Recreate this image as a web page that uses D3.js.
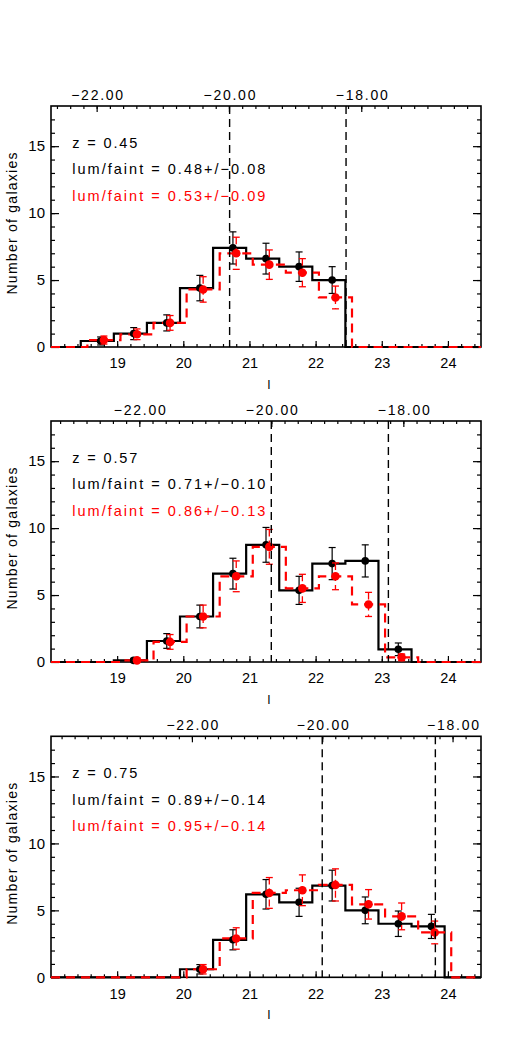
<!DOCTYPE html>
<html><head><meta charset="utf-8">
<script src="https://cdn.jsdelivr.net/npm/d3@7"></script>
<style>
body{margin:0;background:#fff}
svg{display:block}
text{font-family:"Liberation Sans",Arial,Helvetica,sans-serif}
</style>
</head><body>
<svg id="c" width="511" height="1063"></svg>
<script>
// ---------- data ----------
const redshiftLabels = ["z = 0.45", "z = 0.57", "z = 0.75"];
const blackRatioLabels = ["lum/faint = 0.48+/\u22120.08", "lum/faint = 0.71+/\u22120.10", "lum/faint = 0.89+/\u22120.14"];
const redRatioLabels = ["lum/faint = 0.53+/\u22120.09", "lum/faint = 0.86+/\u22120.13", "lum/faint = 0.95+/\u22120.14"];

// lower edge of first (black) bin in each panel, I magnitude
const firstBinEdge = [18.45, 18.95, 19.95];
const binWidth = 0.5;
const redBinShift = 0.1;

const p1Black = [0.45, 1.0, 1.8, 4.4, 7.4, 6.6, 6.0, 5.0];
const p1BlackErr = [0.3, 0.45, 0.6, 0.95, 1.2, 1.15, 1.1, 1.0];
const p1Red = [0.52, 0.95, 1.8, 4.3, 7.0, 6.15, 5.55, 3.7];
const p1RedErr = [0.3, 0.4, 0.55, 0.95, 1.2, 1.1, 1.05, 0.85];

const p2Black = [0.12, 1.57, 3.4, 6.6, 8.75, 5.35, 7.35, 7.55, 0.95];
const p2BlackErr = [0.15, 0.55, 0.85, 1.15, 1.3, 1.05, 1.2, 1.2, 0.47];
const p2Red = [0.12, 1.5, 3.4, 6.4, 8.6, 5.5, 6.4, 4.3, 0.35];
const p2RedErr = [0.15, 0.55, 0.85, 1.15, 1.3, 1.05, 1.0, 0.9, 0.25];

const p3Black = [0.6, 2.8, 6.2, 5.6, 6.85, 5.0, 4.0, 3.8];
const p3BlackErr = [0.35, 0.75, 1.1, 1.05, 1.15, 1.0, 0.95, 0.9];
const p3Red = [0.6, 2.9, 6.3, 6.5, 6.9, 5.45, 4.55, 3.35];
const p3RedErr = [0.35, 0.8, 1.15, 1.15, 1.2, 1.1, 1.0, 0.85];

// point positions relative to each bin's lower edge
const blackPointOffset = 0.30;
const redPointOffset = 0.35;

// dashed limits (I magnitude)
const p1Limits = [20.70, 22.46];
const p2Limits = [21.33, 23.10];
const p3Limits = [22.10, 23.81];

// top axis: absolute magnitude tick values and their I positions (per panel)
const absMagTicks = [-22, -20, -18];
const p1AbsMagAtI = [18.69, 20.70, 22.69];
const p2AbsMagAtI = [19.335, 21.326, 23.326];
const p3AbsMagAtI = [20.13, 22.10, 24.07];

const xDomain = [18, 24.5];
const yDomain = [0, 18];
const xTicks = [19, 20, 21, 22, 23, 24];
const yTicks = [0, 5, 10, 15];

const panels = [
  {black: p1Black, bErr: p1BlackErr, red: p1Red, rErr: p1RedErr, lim: p1Limits, top: p1AbsMagAtI},
  {black: p2Black, bErr: p2BlackErr, red: p2Red, rErr: p2RedErr, lim: p2Limits, top: p2AbsMagAtI},
  {black: p3Black, bErr: p3BlackErr, red: p3Red, rErr: p3RedErr, lim: p3Limits, top: p3AbsMagAtI}
];

// ---------- layout ----------
const L = 51, R = 481;
const bottoms = [347, 662, 977.3];
const plotH = 241;
const svg = d3.select("#c");
const x = d3.scaleLinear().domain(xDomain).range([L, R]);
const RED = "#ff0000";

panels.forEach((p, pi) => {
  const B = bottoms[pi], T = B - plotH;
  const y = d3.scaleLinear().domain(yDomain).range([B, T]);
  const g = svg.append("g");

  // axes
  const bot = g.append("g").attr("class", "xax").attr("transform", `translate(0,${B})`)
    .call(d3.axisBottom(x).tickValues(xTicks).tickSize(-6).tickPadding(11).tickFormat(d3.format("d")));
  g.append("g").attr("transform", `translate(0,${B})`)
    .call(d3.axisBottom(x).tickValues(d3.range(18.2, 24.45, 0.2)).tickSize(-3).tickFormat(""));
  const left = g.append("g").attr("class", "yax").attr("transform", `translate(${L},0)`)
    .call(d3.axisLeft(y).tickValues(yTicks).tickSize(-8).tickPadding(6));
  g.append("g").attr("transform", `translate(${L},0)`)
    .call(d3.axisLeft(y).tickValues(d3.range(1, 18, 1)).tickSize(-4).tickFormat(""));
  g.append("g").attr("transform", `translate(${R},0)`)
    .call(d3.axisRight(y).tickValues(yTicks).tickSize(-8).tickFormat(""));
  g.append("g").attr("transform", `translate(${R},0)`)
    .call(d3.axisRight(y).tickValues(d3.range(1, 18, 1)).tickSize(-4).tickFormat(""));

  const m = d3.scaleLinear().domain([absMagTicks[0], absMagTicks[2]]).range([x(p.top[0]), x(p.top[2])]);
  const mMin = m.invert(L), mMax = m.invert(R);
  g.append("g").attr("class", "tax").attr("transform", `translate(0,${T})`)
    .call(d3.axisTop(m).tickValues(absMagTicks).tickSize(-6).tickPadding(6).tickFormat(d3.format(".2f")));
  g.append("g").attr("transform", `translate(0,${T})`)
    .call(d3.axisTop(m).tickValues(d3.range(-25, -15, 0.2).filter(v => v > mMin + 0.05 && v < mMax - 0.05)).tickSize(-3).tickFormat(""));

  g.selectAll(".domain").remove();
  g.selectAll(".tick line").attr("stroke", "#000").attr("stroke-width", 1.2);
  g.selectAll(".tick text").attr("fill", "#000")
    .attr("font-family", '"Liberation Sans",Arial,sans-serif');
  g.selectAll(".xax .tick text").attr("font-size", 14.5);
  g.selectAll(".yax .tick text").attr("font-size", 15);
  g.selectAll(".tax .tick text").attr("font-size", 14).attr("textLength", 52).attr("lengthAdjust", "spacing");

  // frame
  g.append("rect").attr("x", L).attr("y", T).attr("width", R - L).attr("height", plotH)
    .attr("fill", "none").attr("stroke", "#000").attr("stroke-width", 1.6);

  // labels
  g.append("text").attr("transform", `translate(16.7,${(T + B) / 2 - 3}) rotate(-90)`)
    .attr("text-anchor", "middle").attr("font-size", 14).attr("textLength", 142).attr("lengthAdjust", "spacing")
    .text("Number of galaxies");
  g.append("text").attr("x", 269).attr("y", B + 42).attr("text-anchor", "middle").attr("font-size", 12).text("I");

  g.append("text").attr("x", 72.3).attr("y", T + 41.7).attr("font-size", 14.5)
    .attr("textLength", 65).attr("lengthAdjust", "spacing").text(redshiftLabels[pi]);
  g.append("text").attr("x", 72.3).attr("y", T + 68.3).attr("font-size", 14.5)
    .attr("textLength", 193).attr("lengthAdjust", "spacing").text(blackRatioLabels[pi]);
  g.append("text").attr("x", 72.3).attr("y", T + 95).attr("font-size", 14.5).attr("fill", RED)
    .attr("textLength", 193).attr("lengthAdjust", "spacing").text(redRatioLabels[pi]);

  // histograms
  const line = d3.line().x(d => x(d[0])).y(d => y(d[1])).curve(d3.curveStepAfter);
  function histPts(vals, start) {
    const pts = [[xDomain[0], 0]];
    vals.forEach((v, i) => pts.push([start + i * binWidth, v]));
    pts.push([start + vals.length * binWidth, 0]);
    pts.push([xDomain[1], 0]);
    return pts;
  }
  const bStart = firstBinEdge[pi], rStart = bStart + redBinShift;

  g.append("path").attr("d", line(histPts(p.black, bStart)))
    .attr("fill", "none").attr("stroke", "#000").attr("stroke-width", 2.2);
  g.append("path").attr("d", line(histPts(p.red, rStart)))
    .attr("fill", "none").attr("stroke", RED).attr("stroke-width", 2.2).attr("stroke-dasharray", "9,6");

  // error bars & points (black)
  const bx = p.black.map((v, i) => bStart + i * binWidth + blackPointOffset);
  const rx = p.red.map((v, i) => bStart + i * binWidth + redPointOffset);
  p.black.forEach((v, i) => {
    const cx = x(bx[i]), y1 = y(v + p.bErr[i]), y0 = y(v - p.bErr[i]);
    g.append("line").attr("x1", cx).attr("x2", cx).attr("y1", y1).attr("y2", y0).attr("stroke", "#000").attr("stroke-width", 1.2);
    [y1, y0].forEach(yy => g.append("line").attr("x1", cx - 3.5).attr("x2", cx + 3.5).attr("y1", yy).attr("y2", yy).attr("stroke", "#000").attr("stroke-width", 1.2));
  });
  g.selectAll(".bdot").data(p.black).join("circle").attr("class", "bdot")
    .attr("cx", (d, i) => x(bx[i])).attr("cy", d => y(d)).attr("r", 3.8).attr("fill", "#000");

  // red error bars & points
  p.red.forEach((v, i) => {
    const cx = x(rx[i]), y1 = y(v + p.rErr[i]), y0 = y(v - p.rErr[i]);
    g.append("line").attr("x1", cx).attr("x2", cx).attr("y1", y1).attr("y2", y0).attr("stroke", RED).attr("stroke-width", 1.3).attr("stroke-dasharray", "7,4");
    [y1, y0].forEach(yy => g.append("line").attr("x1", cx - 3.5).attr("x2", cx + 3.5).attr("y1", yy).attr("y2", yy).attr("stroke", RED).attr("stroke-width", 1.3));
  });
  g.selectAll(".rdot").data(p.red).join("circle").attr("class", "rdot")
    .attr("cx", (d, i) => x(rx[i])).attr("cy", d => y(d)).attr("r", 4.3).attr("fill", RED);

  // dashed limits
  g.selectAll(".lim").data(p.lim).join("line").attr("class", "lim")
    .attr("x1", d => x(d)).attr("x2", d => x(d)).attr("y1", T).attr("y2", B)
    .attr("stroke", "#000").attr("stroke-width", 1.4).attr("stroke-dasharray", "8,5");
});
</script>
</body></html>
